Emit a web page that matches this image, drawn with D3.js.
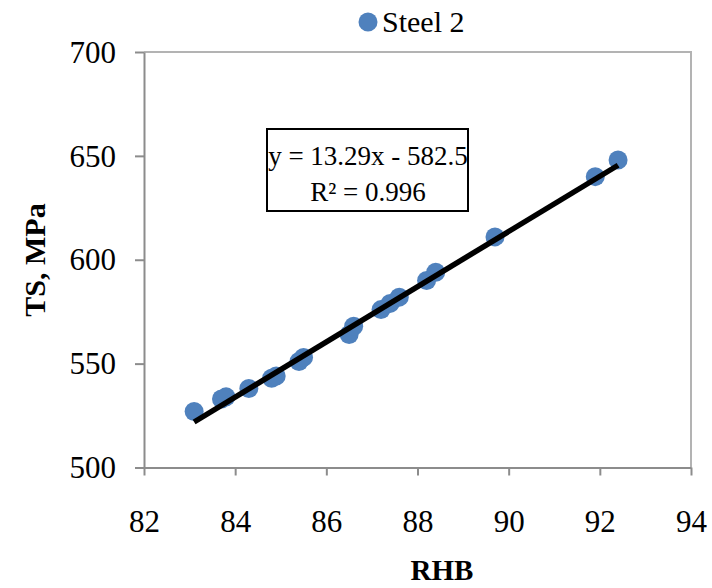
<!DOCTYPE html>
<html>
<head>
<meta charset="utf-8">
<script src="https://cdn.jsdelivr.net/npm/d3@7"></script>
<style>
  body { margin: 0; background: #fff; }
  text { font-family: "Liberation Serif", "Times New Roman", serif; }
</style>
</head>
<body>
<script>
// data
var rhb = [83.1, 83.7, 83.8, 84.3, 84.8, 84.9, 85.4, 85.5, 86.5, 86.6, 87.2, 87.4, 87.6, 88.2, 88.4, 89.7, 91.9, 92.4];
var ts  = [527, 533, 534, 538, 543, 544, 551, 553, 564, 568, 576, 579, 582, 590, 594, 611, 640, 648];
var xTicks = [82, 84, 86, 88, 90, 92, 94];
var yTicks = [500, 550, 600, 650, 700];
var seriesName = "Steel 2";
var slope = 13.29, intercept = -582.5, r2 = 0.996;

var svg = d3.select("body").append("svg")
	.attr("width", 712)
	.attr("height", 588);

var x = d3.scaleLinear().domain([82, 94]).range([144, 691]);
var y = d3.scaleLinear().domain([500, 700]).range([467.5, 52]);

// top / right frame
svg.append("path")
	.attr("d", "M" + x(82) + "," + y(700) + "H" + x(94) + "V" + y(500))
	.attr("fill", "none")
	.attr("stroke", "#b3b3b3")
	.attr("stroke-width", 2);

var xAxis = svg.append("g")
	.attr("transform", "translate(0," + y(500) + ")")
	.call(d3.axisBottom(x).tickValues(xTicks).tickSize(8).tickSizeOuter(0).tickPadding(0));

var yAxis = svg.append("g")
	.attr("transform", "translate(" + x(82) + ",0)")
	.call(d3.axisLeft(y).tickValues(yTicks).tickSize(9).tickSizeOuter(0).tickPadding(19));

[xAxis, yAxis].forEach(function(g){
	g.attr("font-family", null).attr("font-size", null);
	g.select(".domain").attr("stroke", "#8c8c8c").attr("stroke-width", 2);
	g.selectAll(".tick line").attr("stroke", "#8c8c8c").attr("stroke-width", 2);
	g.selectAll(".tick text")
		.attr("fill", "#000")
		.style("font-family", "'Liberation Serif', 'Times New Roman', serif")
		.style("font-size", "31px");
});
yAxis.selectAll(".tick text").attr("dy", "0.33em");
xAxis.selectAll(".tick text").attr("y", 64).attr("dy", 0);

// points
svg.selectAll("circle.pt")
	.data(rhb)
	.enter()
	.append("circle")
	.attr("class", "pt")
	.attr("cx", d => x(d))
	.attr("cy", (d, i) => y(ts[i]))
	.attr("r", 9.5)
	.attr("fill", "#4f81bd");

// linear trend line
var xMin = d3.min(rhb), xMax = d3.max(rhb);
svg.append("line")
	.attr("x1", x(xMin))
	.attr("y1", y(slope * xMin + intercept))
	.attr("x2", x(xMax))
	.attr("y2", y(slope * xMax + intercept))
	.attr("stroke", "#000")
	.attr("stroke-width", 5.5);

// equation box
var eq = svg.append("g");
eq.append("rect")
	.attr("x", 267)
	.attr("y", 129)
	.attr("width", 201)
	.attr("height", 82)
	.attr("fill", "#fff")
	.attr("stroke", "#000")
	.attr("stroke-width", 2);
eq.append("text")
	.attr("x", 368)
	.attr("y", 165)
	.attr("text-anchor", "middle")
	.style("font-size", "27px")
	.text("y = " + slope + "x - " + Math.abs(intercept));
eq.append("text")
	.attr("x", 368)
	.attr("y", 201)
	.attr("text-anchor", "middle")
	.style("font-size", "27px")
	.text("R² = " + r2);

// legend
svg.append("circle")
	.attr("cx", 368)
	.attr("cy", 22)
	.attr("r", 9.5)
	.attr("fill", "#4f81bd");
svg.append("text")
	.attr("x", 382)
	.attr("y", 32)
	.style("font-size", "30px")
	.text(seriesName);

// axis titles
svg.append("text")
	.attr("x", 442)
	.attr("y", 580)
	.attr("text-anchor", "middle")
	.style("font-size", "29px")
	.style("font-weight", "bold")
	.text("RHB");

svg.append("text")
	.attr("transform", "translate(45,260) rotate(-90)")
	.attr("text-anchor", "middle")
	.style("font-size", "30px")
	.style("font-weight", "bold")
	.text("TS, MPa");
</script>
</body>
</html>
